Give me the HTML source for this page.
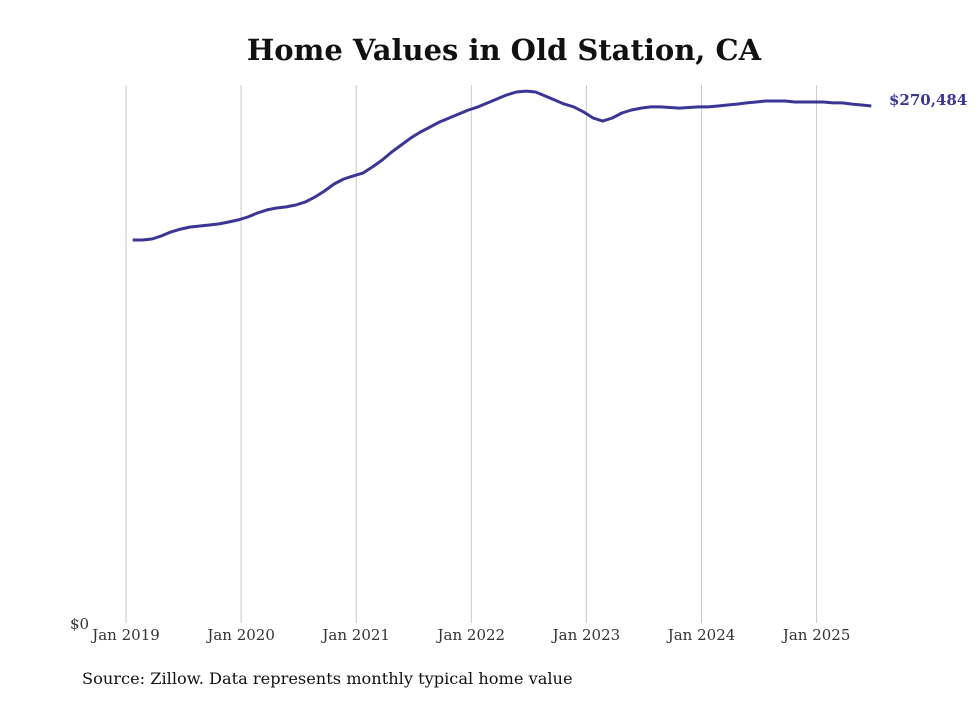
<!DOCTYPE html>
<html><head><meta charset="utf-8"><style>
body{margin:0;background:#fff;}
svg text{font-family:"DejaVu Serif","Liberation Serif",serif;}
</style></head><body>
<svg width="980" height="699" xmlns="http://www.w3.org/2000/svg">
<text x="504" y="60" text-anchor="middle" font-size="29" font-weight="bold" fill="#111">Home Values in Old Station, CA</text>
<g id="grid"></g>
<g id="xt"></g>
<text x="70" y="629" font-size="15" fill="#333">$0</text>
<path id="line" fill="none" stroke="#3b3596" stroke-width="3" stroke-linejoin="round"/>
<text id="endlbl" font-size="15" font-weight="bold" fill="#3b3596"></text>
<text x="82" y="684" font-size="16.2" fill="#111">Source: Zillow. Data represents monthly typical home value</text>
</svg>
<script>
const tickYears=[2019,2020,2021,2022,2023,2024,2025];
const tickLabels=["Jan 2019","Jan 2020","Jan 2021","Jan 2022","Jan 2023","Jan 2024","Jan 2025"];
const startYear=2019, startMonth=0.7;
const values=[200400,200400,200900,202500,204600,206100,207200,207700,208200,208800,209800,210900,
212400,214500,216100,217100,217700,218700,220300,222900,226000,229700,232300,233900,
235400,238600,242200,246400,250100,253800,256900,259500,262100,264200,266300,268400,
270000,272100,274200,276300,277800,278300,277800,275700,273600,271500,270000,267400,
264200,262600,264200,266800,268400,269400,270000,270000,269700,269400,269700,270000,
270000,270500,271000,271500,272100,272600,273100,273100,273100,272600,272600,272600,
272600,272100,272100,271500,271000,270484];
const x0=126, pxPerYear=115.1, yBase=623, yTop=106, vRef=270484;
const xs=t=>x0+(t-2019)*pxPerYear;
const ys=v=>yBase-v*(yBase-yTop)/vRef;
const ns="http://www.w3.org/2000/svg";
const grid=document.getElementById('grid'), xt=document.getElementById('xt');
tickYears.forEach((yr,i)=>{
  const l=document.createElementNS(ns,'line');
  
  
  l.setAttribute('x1',xs(yr));l.setAttribute('x2',xs(yr));
  l.setAttribute('y1',85);l.setAttribute('y2',yBase);
  l.setAttribute('stroke','#c8c8c8');l.setAttribute('stroke-width','1');
  grid.appendChild(l);
  const t=document.createElementNS(ns,'text');
  
  
  t.setAttribute('x',xs(yr));t.setAttribute('y',640);
  t.setAttribute('text-anchor','middle');t.setAttribute('font-size','15');t.setAttribute('fill','#333');
  t.textContent=tickLabels[i];
  xt.appendChild(t);
});
let d='';
values.forEach((v,i)=>{
  const t=startYear+(startMonth+i)/12;
  d+=(i?'L':'M')+xs(t).toFixed(1)+','+ys(v).toFixed(1);
});
document.getElementById('line').setAttribute('d',d);
const last=values[values.length-1];
const lt=startYear+(startMonth+values.length-1)/12;
const el=document.getElementById('endlbl');
el.setAttribute('x',889);el.setAttribute('y',ys(last)-1);
el.textContent='$'+last.toLocaleString('en-US');
</script>
</body></html>
